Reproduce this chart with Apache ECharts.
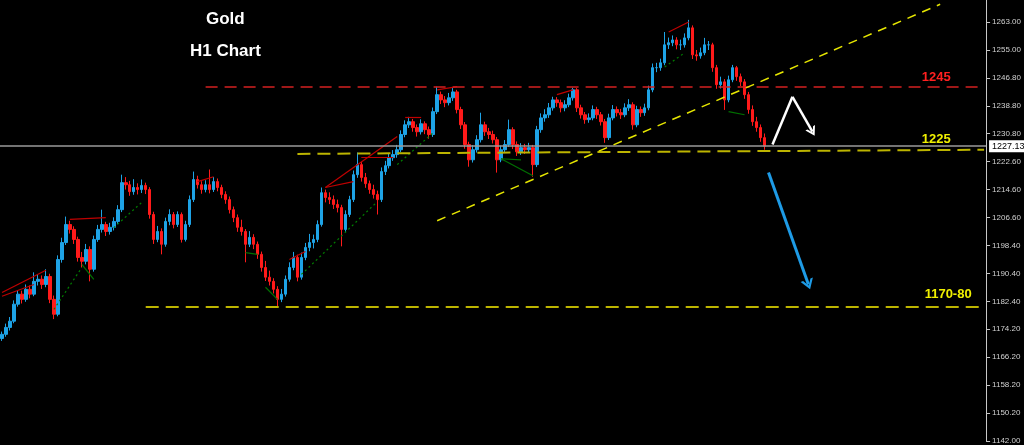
<!DOCTYPE html>
<html>
<head>
<meta charset="utf-8">
<title>Gold H1 Chart</title>
<script src="https://cdn.jsdelivr.net/npm/echarts@6/dist/echarts.min.js"></script>
<style>
  html, body { margin: 0; padding: 0; background: #000; }
  #chart { width: 1024px; height: 445px; }
</style>
</head>
<body>
<div id="chart"></div>
<script>
// price axis
const yMin = 1142.0;
const yMax = 1269.34;
const yStep = 121 / 15;
const tickLabels = ['1142.00', '1150.20', '1158.20', '1166.20', '1174.20', '1182.40', '1190.40', '1198.40',
  '1206.60', '1214.60', '1222.60', '1230.80', '1238.80', '1246.80', '1255.00', '1263.00'];

// bar slots (candles + empty space on the right)
const slotCount = 247;
const firstOpen = 1171.6;

const closes = [
  1172.8, 1174.8, 1176.6, 1181.5, 1184.4, 1182.9, 1185.8, 1184.4, 1188.1, 1188.7, 1187.2, 1189.5,
  1182.9, 1178.6, 1194.4, 1199.3, 1204.5, 1203.1, 1200.2, 1195.0, 1193.9, 1197.3, 1191.6, 1200.2,
  1203.1, 1204.5, 1202.5, 1203.7, 1205.4, 1208.8, 1216.6, 1216.0, 1214.0, 1215.2, 1214.6, 1215.8,
  1214.6, 1207.4, 1200.2, 1202.5, 1198.8, 1205.4, 1207.4, 1204.5, 1207.4, 1200.2, 1204.5, 1211.7,
  1217.5, 1216.0, 1214.6, 1216.0, 1214.6, 1216.9, 1215.2, 1213.2, 1211.7, 1208.8, 1206.5, 1203.7,
  1202.5, 1198.8, 1200.8, 1198.8, 1195.9, 1192.1, 1189.3, 1188.1, 1185.8, 1182.9, 1184.4, 1188.7,
  1192.1, 1195.0, 1189.3, 1195.0, 1197.9, 1199.3, 1200.2, 1204.5, 1213.7, 1212.3, 1211.7, 1210.3,
  1209.4, 1203.1, 1207.4, 1211.7, 1218.9, 1221.8, 1218.1, 1216.3, 1214.6, 1213.2, 1211.7, 1219.8,
  1221.5, 1223.8, 1224.7, 1226.1, 1230.5, 1233.3, 1234.2, 1232.5, 1231.3, 1233.6, 1231.9, 1230.5,
  1237.1, 1242.0, 1240.5, 1239.7, 1241.1, 1242.8, 1237.7, 1233.3, 1227.6, 1223.2, 1226.1, 1229.0,
  1233.3, 1231.3, 1230.5, 1229.0, 1223.2, 1226.1, 1227.6, 1231.9, 1227.6, 1225.5, 1226.7, 1226.1,
  1226.7, 1221.8, 1231.9, 1235.3, 1236.2, 1238.2, 1240.5, 1239.7, 1238.2, 1239.1, 1241.1, 1243.4,
  1238.2, 1236.2, 1234.8, 1235.3, 1237.7, 1236.2, 1234.2, 1229.6, 1235.3, 1237.7, 1236.8, 1236.2,
  1238.2, 1239.1, 1233.3, 1237.7, 1236.8, 1238.2, 1243.4, 1249.8, 1249.8, 1251.2, 1256.4, 1257.0,
  1257.8, 1256.4, 1256.4, 1258.4, 1261.3, 1253.5, 1253.2, 1254.1, 1256.4, 1256.4, 1249.8, 1244.9,
  1245.7, 1240.5, 1246.3, 1249.8, 1247.2, 1245.7, 1242.0, 1237.7, 1234.2, 1232.5, 1229.6, 1227.13
];

const highs = [
  1173.6, 1175.9, 1177.8, 1182.6, 1185.6, 1185.4, 1187.2, 1186.9, 1190.7, 1190.2, 1189.8, 1191.6,
  1190.3, 1184.0, 1195.6, 1200.7, 1206.8, 1205.6, 1204.0, 1201.0, 1196.6, 1198.9, 1198.2, 1201.3,
  1204.4, 1208.8, 1205.3, 1205.0, 1206.6, 1210.1, 1218.9, 1218.2, 1217.1, 1217.6, 1216.4, 1217.5,
  1216.6, 1215.3, 1208.2, 1204.1, 1203.4, 1206.5, 1208.9, 1208.1, 1208.3, 1208.0, 1205.6, 1212.9,
  1219.8, 1218.6, 1217.0, 1217.3, 1220.4, 1218.2, 1217.8, 1216.0, 1214.1, 1212.6, 1209.7, 1207.4,
  1205.9, 1203.2, 1202.6, 1201.7, 1199.6, 1196.7, 1194.0, 1191.2, 1189.0, 1186.7, 1185.9, 1189.8,
  1193.6, 1196.6, 1195.8, 1196.4, 1199.2, 1201.8, 1201.6, 1205.7, 1215.2, 1214.6, 1213.8, 1212.9,
  1211.7, 1210.2, 1208.6, 1212.8, 1220.1, 1225.3, 1222.6, 1219.4, 1217.2, 1216.0, 1214.3, 1221.0,
  1222.9, 1225.1, 1226.0, 1227.5, 1231.7, 1234.6, 1235.6, 1235.0, 1233.4, 1234.9, 1234.3, 1232.8,
  1238.3, 1244.3, 1242.9, 1241.6, 1242.5, 1243.9, 1243.4, 1238.5, 1234.1, 1228.4, 1227.4, 1230.3,
  1236.8, 1234.2, 1232.4, 1231.6, 1229.8, 1227.3, 1228.9, 1234.8, 1232.6, 1228.5, 1228.0, 1227.8,
  1228.1, 1227.5, 1233.0, 1236.6, 1237.8, 1239.6, 1241.4, 1241.3, 1240.6, 1240.4, 1242.3, 1244.0,
  1243.9, 1239.1, 1237.0, 1236.6, 1238.9, 1238.5, 1237.0, 1235.0, 1236.5, 1239.0, 1238.6, 1237.9,
  1239.5, 1240.7, 1239.8, 1238.8, 1238.6, 1239.4, 1244.6, 1251.0, 1251.2, 1252.4, 1260.1, 1258.5,
  1259.1, 1258.6, 1257.9, 1259.7, 1263.6, 1262.0, 1254.9, 1255.6, 1258.4, 1257.5, 1257.0, 1250.6,
  1247.2, 1246.5, 1247.5, 1250.6, 1250.3, 1248.1, 1246.5, 1242.8, 1238.9, 1235.6, 1233.4, 1230.8
];

const lows = [
  1170.9, 1172.1, 1173.9, 1176.0, 1180.8, 1181.7, 1182.2, 1183.2, 1183.8, 1186.9, 1185.9, 1186.4,
  1181.8, 1177.2, 1178.0, 1193.5, 1198.6, 1201.9, 1198.9, 1193.8, 1192.1, 1193.0, 1188.1, 1190.9,
  1199.5, 1202.2, 1201.2, 1201.6, 1202.8, 1204.6, 1208.1, 1214.6, 1212.8, 1213.1, 1213.2, 1213.6,
  1213.3, 1206.2, 1198.9, 1199.4, 1195.9, 1198.1, 1204.3, 1203.4, 1203.8, 1199.3, 1199.6, 1203.8,
  1211.0, 1214.9, 1213.4, 1213.8, 1213.5, 1213.9, 1214.1, 1212.1, 1210.5, 1207.7, 1205.2, 1202.4,
  1201.3, 1193.6, 1198.0, 1197.4, 1194.6, 1190.9, 1188.2, 1186.9, 1184.6, 1180.9, 1182.1, 1183.7,
  1188.0, 1191.3, 1188.1, 1188.6, 1194.2, 1196.8, 1197.6, 1199.4, 1203.9, 1210.9, 1210.4, 1209.0,
  1208.0, 1198.2, 1202.3, 1206.7, 1211.0, 1218.0, 1216.9, 1215.1, 1213.4, 1212.0, 1207.4, 1211.0,
  1218.8, 1220.7, 1222.9, 1223.8, 1225.4, 1229.7, 1232.4, 1231.3, 1229.9, 1230.5, 1230.6, 1229.3,
  1229.8, 1236.4, 1239.3, 1238.4, 1238.9, 1240.2, 1236.6, 1232.1, 1226.4, 1221.2, 1222.4, 1225.3,
  1228.2, 1230.1, 1229.2, 1227.9, 1219.5, 1222.5, 1225.2, 1226.9, 1226.3, 1224.3, 1224.6, 1224.9,
  1225.2, 1218.3, 1221.1, 1231.0, 1234.2, 1235.3, 1237.4, 1238.5, 1236.9, 1237.2, 1238.4, 1240.3,
  1237.0, 1235.1, 1233.6, 1233.9, 1234.6, 1235.0, 1233.1, 1228.1, 1228.9, 1234.6, 1235.7, 1235.0,
  1235.5, 1237.3, 1231.9, 1232.6, 1235.6, 1235.9, 1237.5, 1242.7, 1248.5, 1248.9, 1250.5, 1255.2,
  1256.0, 1255.1, 1254.9, 1255.6, 1257.7, 1252.3, 1251.8, 1252.4, 1253.4, 1254.9, 1248.6, 1243.7,
  1243.8, 1237.6, 1239.8, 1245.6, 1246.0, 1244.5, 1240.8, 1236.5, 1233.0, 1231.3, 1228.4, 1226.1
];

const lastPrice = 1227.13;

// drawn levels: [fromBar, toBar, price, text]
const resistance = [51, 246, 1244.2, '1245'];
const supportLow = [36, 246, 1180.7, '1170-80'];
// sloped lines: [bar, price] pairs
const support1225 = [[74, 1224.9], [246, 1226.1]];
const trendUp = [[109, 1205.6], [235, 1268.1]];
const whiteArrow = [[193, 1227.6], [198, 1241.4], [203, 1231.3]];
const blueArrow = [[192, 1219.5], [202, 1187.2]];

// zigzag indicator legs
const zigRed = [
  [[0, 1184.9], [11, 1191.3]], [[0, 1183.8], [8, 1187.2]], [[17, 1206.0], [26, 1206.5]],
  [[49, 1216.9], [53, 1218.3]], [[72, 1194.4], [76, 1196.7]], [[81, 1215.2], [99, 1229.9]],
  [[81, 1215.2], [88, 1216.9]], [[90, 1223.8], [98, 1223.8]], [[101, 1235.6], [105, 1235.6]],
  [[109, 1243.4], [114, 1244.3]], [[139, 1242.0], [143, 1243.4]], [[167, 1260.1], [172, 1263.0]]
];
const zigGreenDotted = [
  [[13, 1180.0], [20, 1192.1]], [[28, 1203.6], [35, 1210.9]], [[75, 1190.1], [94, 1211.1]],
  [[99, 1221.8], [108, 1231.0]], [[166, 1250.0], [171, 1254.1]]
];
const zigGreen = [
  [[20, 1193.0], [23, 1188.7]], [[61, 1196.4], [64, 1195.9]], [[66, 1186.4], [69, 1182.9]],
  [[125, 1223.5], [130, 1223.2]], [[125, 1223.5], [133, 1218.6]], [[182, 1237.1], [186, 1236.2]]
];

const chevron = 'path://M5,0 L10,10 L8,10 L5,4 L2,10 L0,10 Z';

const segLines = (name, segs, lineStyle) => ({
  name: name,
  type: 'line',
  data: [],
  silent: true,
  markLine: {
    silent: true,
    symbol: ['none', 'none'],
    label: { show: false },
    lineStyle: lineStyle,
    data: segs.map(s => [{ coord: s[0] }, { coord: s[1] }])
  }
});

const levelLabel = (text, bar, price, color) => ({
  coord: [bar, price],
  symbol: 'rect',
  symbolSize: 1,
  itemStyle: { color: 'rgba(0,0,0,0)' },
  label: {
    show: true, position: 'inside', formatter: text, color: color,
    fontFamily: 'Liberation Sans', fontWeight: 'bold', fontSize: 13,
    textBorderColor: '#000', textBorderWidth: 2
  }
});

const initChart = () => {
  const chart = echarts.init(document.getElementById('chart'), null, { renderer: 'canvas' });
  const categories = Array.from({ length: slotCount }, (_, i) => String(i));
  const candles = closes.map((c, i) => [i ? closes[i - 1] : firstOpen, c, lows[i], highs[i]]);

  chart.setOption({
    backgroundColor: '#000',
    animation: false,
    grid: { left: 0, right: 36, top: 0, bottom: 3 },
    graphic: [
      { type: 'text', left: 205, top: 10, style: { text: 'Gold', fill: '#fff', font: 'bold 17px "Liberation Sans"', stroke: '#000', lineWidth: 2 } },
      { type: 'text', left: 189, top: 42, style: { text: 'H1 Chart', fill: '#fff', font: 'bold 17px "Liberation Sans"', stroke: '#000', lineWidth: 2 } }
    ],
    xAxis: {
      type: 'category',
      data: categories,
      boundaryGap: true,
      show: false
    },
    yAxis: {
      type: 'value',
      position: 'right',
      min: yMin,
      max: yMax,
      interval: yStep,
      scale: true,
      splitLine: { show: false },
      axisLine: { show: true, lineStyle: { color: '#c8c8c8', width: 1 } },
      axisTick: { show: true, length: 4, lineStyle: { color: '#c8c8c8' } },
      axisLabel: {
        color: '#d0d0d0',
        fontFamily: 'Liberation Sans',
        fontSize: 8,
        margin: 6,
        showMaxLabel: false,
        formatter: (v) => {
          const k = Math.round((v - yMin) / yStep);
          if (k < 0 || k >= tickLabels.length) return '';
          return Math.abs(v - (yMin + k * yStep)) < 0.05 ? tickLabels[k] : '';
        }
      }
    },
    series: [
      segLines('zigRed', zigRed, { color: '#c00000', width: 1.2, type: 'solid' }),
      segLines('zigGreenDotted', zigGreenDotted, { color: '#008000', width: 1.2, type: [2, 3] }),
      segLines('zigGreen', zigGreen, { color: '#007000', width: 1.2, type: 'solid' }),
      segLines('resistance', [[[resistance[0], resistance[2]], [resistance[1], resistance[2]]]],
        { color: '#d42020', width: 1.5, type: [12, 7], opacity: 1 }),
      {
        name: 'XAUUSD',
        type: 'candlestick',
        data: candles,
        barWidth: 3,
        itemStyle: {
          color: '#1ea3e6', color0: '#ff1a1a',
          borderColor: '#1ea3e6', borderColor0: '#ff1a1a', borderWidth: 1
        },
        markLine: {
          silent: true,
          symbol: ['none', 'none'],
          animation: false,
          data: [
            {
              yAxis: lastPrice,
              lineStyle: { color: '#9a9a9a', width: 1.5, type: 'solid' },
              label: {
                show: true, position: 'end', distance: 3, formatter: lastPrice.toFixed(2),
                color: '#000', backgroundColor: '#fff', fontFamily: 'Liberation Sans', fontSize: 9,
                padding: [2, 3, 1, 3]
              }
            },
            [{ coord: [supportLow[0], supportLow[2]], lineStyle: { color: '#bcb400', width: 2, type: [13, 7] }, label: { show: false } },
             { coord: [supportLow[1], supportLow[2]] }],
            [{ coord: support1225[0], lineStyle: { color: '#bcb400', width: 2, type: [13, 7] }, label: { show: false } },
             { coord: support1225[1] }],
            [{ coord: trendUp[0], lineStyle: { color: '#e6e600', width: 1.5, type: [9, 7] }, label: { show: false } },
             { coord: trendUp[1] }],
            [{ coord: whiteArrow[0], lineStyle: { color: '#ffffff', width: 2.5, type: 'solid' }, label: { show: false } },
             { coord: whiteArrow[1] }],
            [{ coord: whiteArrow[1], lineStyle: { color: '#ffffff', width: 2.5, type: 'solid' }, label: { show: false } },
             { coord: whiteArrow[2], symbol: chevron, symbolSize: [11, 9] }],
            [{ coord: blueArrow[0], lineStyle: { color: '#1e9be6', width: 3, type: 'solid' }, label: { show: false } },
             { coord: blueArrow[1], symbol: chevron, symbolSize: [13, 10] }]
          ]
        },
        markPoint: {
          silent: true,
          data: [
            levelLabel(resistance[3], 234, 1246.9, '#ff2020'),
            levelLabel('1225', 234, 1229.0, '#f0f000'),
            levelLabel(supportLow[3], 237, 1184.4, '#f0f000')
          ]
        }
      }
    ]
  });
};

window.addEventListener('load', () => {
  initChart();
});
</script>
</body>
</html>
